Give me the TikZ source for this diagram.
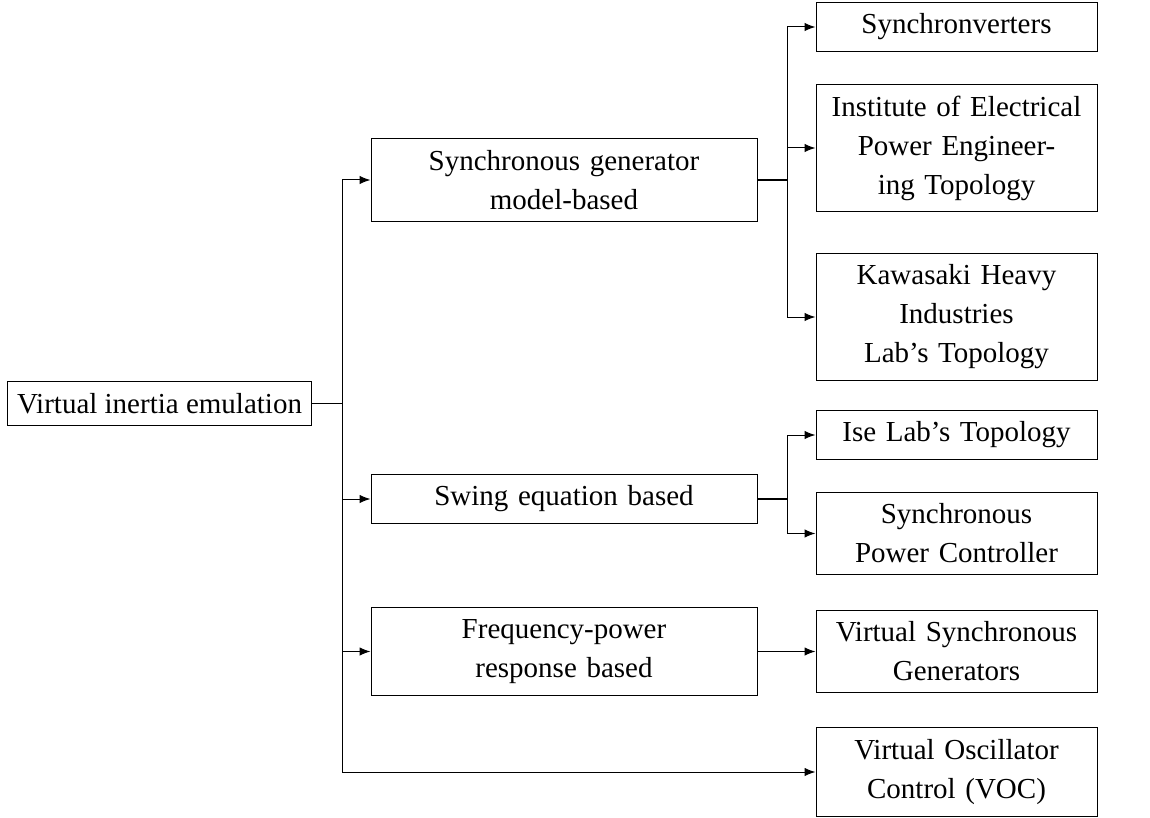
\documentclass[tikz,border=0pt]{standalone}
\usepackage{fontspec}
\setmainfont{Liberation Serif}
\usetikzlibrary{arrows.meta}
\begin{document}
\begin{tikzpicture}[x=0.5pt,y=-0.5pt,
  font=\fontsize{14.5}{19.5}\selectfont,
  box/.style={draw, line width=0.5pt, inner xsep=5pt, inner ysep=5.8pt},
  midbox/.style={box, text width=183pt, align=center},
  leafbox/.style={box, text width=130.5pt, align=center},
  link/.style={line width=0.5pt},
  stub/.style={line width=0.8pt},
  arr/.style={link, -{Latex[length=5.5pt,width=4.2pt]}}]
\useasboundingbox (0,0) rectangle (1150,818);

% nodes
\node[box] (root) at (159.5,403.5) {Virtual inertia emulation};

\node[midbox] (sg) at (564,180) {Synchronous generator\\model-based};
\node[midbox] (sw) at (564,499) {Swing equation based};
\node[midbox] (fp) at (564,651.5) {Frequency-power\\response based};

\node[leafbox] (syv) at (956.5,27) {Synchronverters};
\node[leafbox] (iep) at (956.5,148) {Institute of Electrical\\Power Engineer-\\ing Topology};
\node[leafbox] (khi) at (956.5,317) {Kawasaki Heavy\\Industries\\Lab's Topology};
\node[leafbox] (ise) at (956.5,435) {Ise Lab's Topology};
\node[leafbox] (spc) at (956.5,533.5) {Synchronous\\Power Controller};
\node[leafbox] (vsg) at (956.5,651.5) {Virtual Synchronous\\Generators};
\node[leafbox] (voc) at (956.5,772) {Virtual Oscillator\\Control (VOC)};

% trunk from root
\coordinate (t0) at (342,403.5);
\draw[stub] (root) -- (t0);
\draw[arr] (t0) |- (sg);
\draw[arr] (t0) |- (sw);
\draw[arr] (t0) |- (fp);
\draw[arr] (t0) |- (voc);

% synchronous generator branch
\coordinate (t1) at (787,180);
\draw[stub] (sg) -- (t1);
\draw[arr] (t1) |- (syv);
\draw[arr] (t1) |- (iep);
\draw[arr] (t1) |- (khi);

% swing equation branch
\coordinate (t2) at (787,499);
\draw[stub] (sw) -- (t2);
\draw[arr] (t2) |- (ise);
\draw[arr] (t2) |- (spc);

% frequency-power branch
\draw[arr] (fp) -- (vsg);
\end{tikzpicture}
\end{document}
